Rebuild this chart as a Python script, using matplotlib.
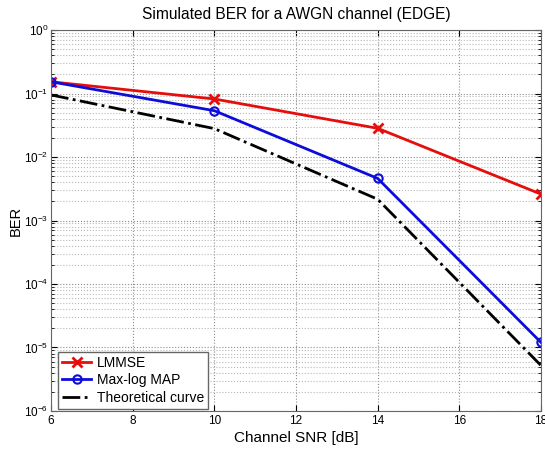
import numpy as np
import matplotlib
matplotlib.use("Agg")
import matplotlib.pyplot as plt
from matplotlib.ticker import LogLocator, NullFormatter

plt.rcParams['font.family'] = ['Liberation Sans', 'DejaVu Sans']

snr = [6, 10, 14, 18]
ber_lmmse = [0.153, 0.082, 0.0283, 0.0026]
ber_maxlog = [0.153, 0.0536, 0.0046, 1.2e-5]
ber_theory = [0.095, 0.028, 0.00216, 5.2e-6]

fig = plt.figure(figsize=(5.45, 4.5), dpi=100)
ax = fig.add_axes([0.0936, 0.0867, 0.8991, 0.8466])

ax.semilogy(snr, ber_lmmse, color=(0.9, 0.05, 0.05), lw=2, marker='x',
            markersize=7, mew=2, label='LMMSE')
ax.semilogy(snr, ber_maxlog, color=(0.05, 0.05, 0.85), lw=2, marker='o',
            markersize=6, mew=1.5, markerfacecolor='none', label='Max-log MAP')
ax.semilogy(snr, ber_theory, color='black', lw=2, ls='-.', label='Theoretical curve')

ax.set_xlim(6, 18)
ax.set_ylim(1e-6, 1)
ax.set_xticks(range(6, 19, 2))
ax.yaxis.set_major_locator(LogLocator(base=10, numticks=10))
ax.yaxis.set_minor_locator(LogLocator(base=10, subs=np.arange(2, 10), numticks=20))
ax.yaxis.set_minor_formatter(NullFormatter())

ax.grid(True, which='major', ls=':', color='0.55', lw=0.8)
ax.grid(True, which='minor', axis='y', ls=':', color='0.72', lw=0.8)
ax.tick_params(which='both', direction='in', top=True, right=True, labelsize=8.5)
ax.tick_params(axis='y', pad=2)
ax.tick_params(axis='x', pad=3)
ax.tick_params(which='major', length=4)
ax.tick_params(which='minor', length=2)
for s in ax.spines.values():
    s.set_color('0.4')

ax.set_title("Simulated BER for a AWGN channel (EDGE)", fontsize=11.2, y=1.029, pad=0)
ax.set_xlabel("Channel SNR [dB]", fontsize=11)
ax.set_ylabel("BER", fontsize=10.5)
ax.xaxis.set_label_coords(0.5, -0.052)
ax.yaxis.set_label_coords(-0.057, 0.5)

leg = ax.legend(loc='lower left', bbox_to_anchor=(0.01, 0.0), fontsize=10,
                fancybox=False, framealpha=1, edgecolor='0.4', borderaxespad=0.15,
                handlelength=2.1, handletextpad=0.4, labelspacing=0.25, borderpad=0.3)
leg.get_frame().set_linewidth(1)

fig.savefig("out.png", dpi=100)
